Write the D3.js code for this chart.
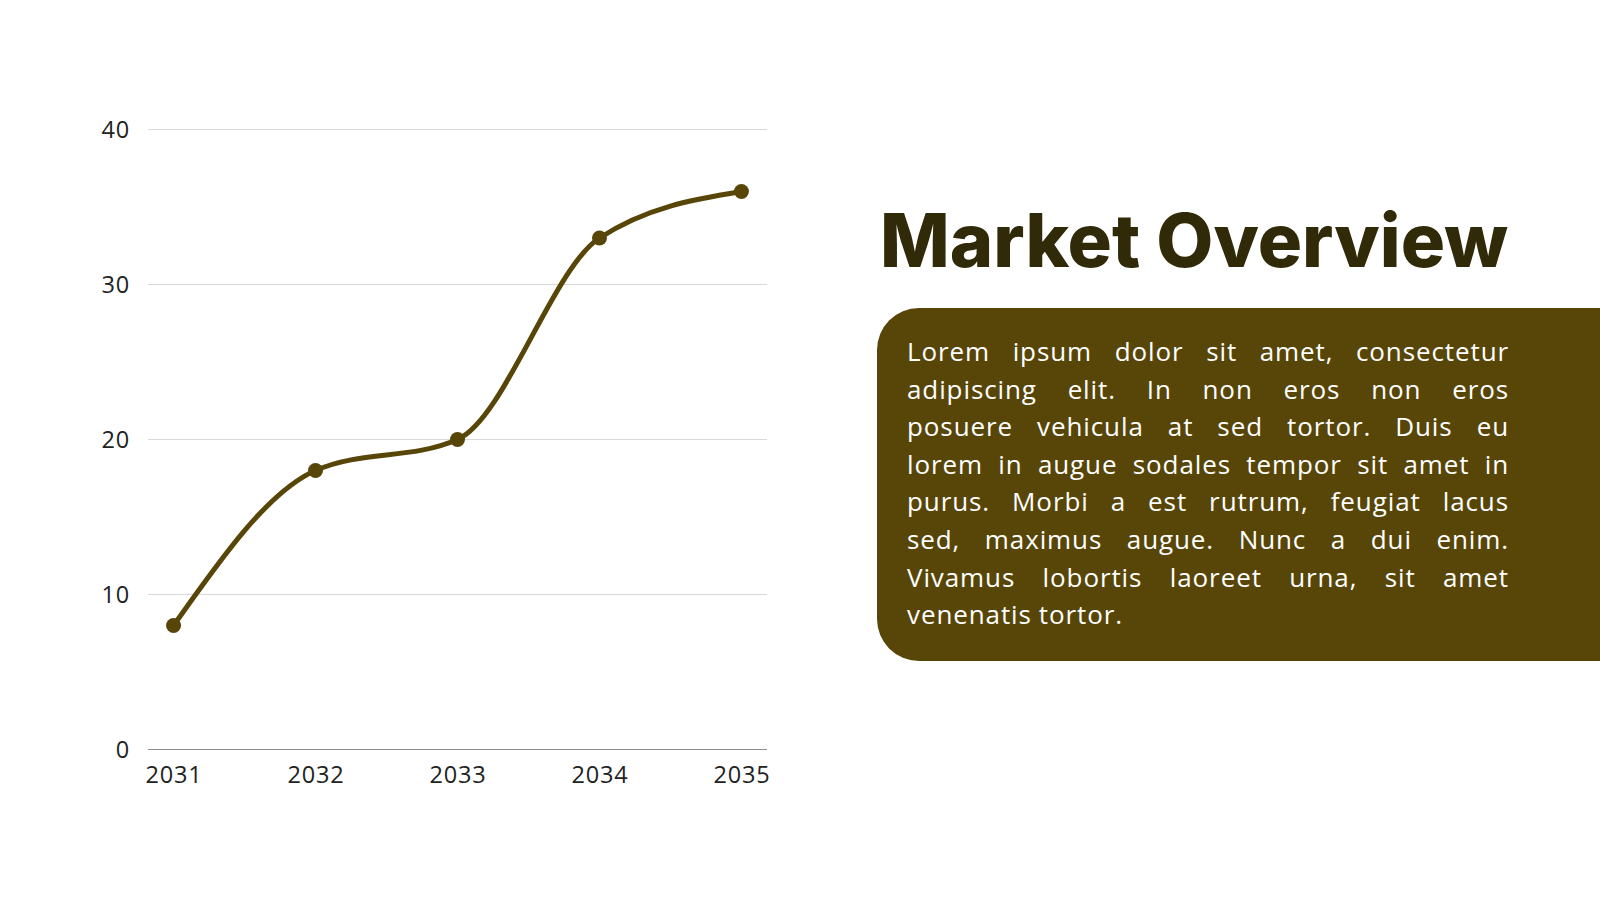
<!DOCTYPE html>
<html>
<head>
<meta charset="utf-8">
<script src="https://cdn.jsdelivr.net/npm/d3@7"></script>
<style>
  html, body { margin: 0; padding: 0; background: #ffffff; }
  svg { display: block; }
</style>
</head>
<body>
<svg id="chart"></svg>
<script>
// data
const years = ["2031", "2032", "2033", "2034", "2035"];
const values = [8, 18, 20, 33, 36];
const yTicks = [0, 10, 20, 30, 40];

const title = "Market Overview";
const bodyLines = [
  "Lorem ipsum dolor sit amet, consectetur",
  "adipiscing elit. In non eros non eros",
  "posuere vehicula at sed tortor. Duis eu",
  "lorem in augue sodales tempor sit amet in",
  "purus. Morbi a est rutrum, feugiat lacus",
  "sed, maximus augue. Nunc a dui enim.",
  "Vivamus lobortis laoreet urna, sit amet",
  "venenatis tortor."
];

// layout
const width = 1600;
const height = 900;
const plot = {left: 148, right: 767, top: 129.5, bottom: 749.5};
const lineColor = "#584609";
const font = "'Open Sans', Lato, sans-serif";

const svg = d3.select('#chart')
    .attr('width', width)
    .attr('height', height);

// scales
const x = d3.scalePoint()
    .domain(years)
    .range([plot.left, plot.right])
    .padding(0.18);

const y = d3.scaleLinear()
    .domain([0, 40])
    .range([plot.bottom, plot.top]);

// grid lines
svg.append('g')
    .selectAll('line')
    .data(yTicks.filter(d => d > 0))
    .enter()
    .append('line')
    .attr('x1', plot.left)
    .attr('x2', plot.right)
    .attr('y1', d => y(d))
    .attr('y2', d => y(d))
    .attr('stroke', '#d9d9d9')
    .attr('stroke-width', 1);

// Y axis (labels only)
const yAxis = svg.append('g')
    .attr('transform', 'translate(' + plot.left + ',0)')
    .call(d3.axisLeft(y).tickValues(yTicks).tickSize(0).tickPadding(18));
yAxis.select('.domain').remove();
yAxis.selectAll('text')
    .attr('font-family', font)
    .attr('font-size', 23.5)
    .attr('letter-spacing', 0.8)
    .attr('fill', '#222222');

// X axis
const xAxis = svg.append('g')
    .attr('transform', 'translate(0,' + plot.bottom + ')')
    .call(d3.axisBottom(x).tickSize(0).tickPadding(17));
xAxis.select('.domain')
    .attr('d', 'M' + plot.left + ',0H' + plot.right)
    .attr('stroke', '#8c8c8c')
    .attr('stroke-width', 1.2);
xAxis.selectAll('text')
    .attr('font-family', font)
    .attr('font-size', 23.5)
    .attr('letter-spacing', 0.8)
    .attr('fill', '#222222');

// line
const line = d3.line()
    .x((d, i) => x(years[i]))
    .y(d => y(d))
    .curve(d3.curveMonotoneX);

svg.append('path')
    .datum(values)
    .attr('d', line)
    .attr('fill', 'none')
    .attr('stroke', lineColor)
    .attr('stroke-width', 5)
    .attr('stroke-linecap', 'round');

svg.selectAll('circle.pt')
    .data(values)
    .enter()
    .append('circle')
    .attr('class', 'pt')
    .attr('cx', (d, i) => x(years[i]))
    .attr('cy', d => y(d))
    .attr('r', 7.5)
    .attr('fill', lineColor);

// title
svg.append('text')
    .attr('x', 880)
    .attr('y', 267)
    .attr('font-family', "Inter, 'Open Sans', sans-serif")
    .attr('font-weight', 800)
    .attr('font-size', 74)
    .attr('fill', '#302a08')
    .attr('textLength', 628)
    .attr('lengthAdjust', 'spacingAndGlyphs')
    .text(title);

// text box, rounded on the left only
const box = {x: 877, y: 308, w: 740, h: 353, r: 42};
svg.append('path')
    .attr('d', 'M' + (box.x + box.r) + ',' + box.y +
      'H' + (box.x + box.w) + 'V' + (box.y + box.h) +
      'H' + (box.x + box.r) +
      'A' + box.r + ',' + box.r + ' 0 0 1 ' + box.x + ',' + (box.y + box.h - box.r) +
      'V' + (box.y + box.r) +
      'A' + box.r + ',' + box.r + ' 0 0 1 ' + (box.x + box.r) + ',' + box.y + 'Z')
    .attr('fill', '#574608');

// justified paragraph
const textLeft = 907;
const textRight = 1509;
const lineGap = 37.6;
const firstBaseline = 361;

const para = svg.append('g')
    .attr('font-family', font)
    .attr('font-size', 26)
    .attr('letter-spacing', 0.9)
    .attr('fill', '#ffffff');

bodyLines.forEach(function(str, li) {
  const words = str.split(' ');
  const yy = firstBaseline + li * lineGap;
  const last = li === bodyLines.length - 1;
  const nodes = words.map(w => para.append('text').attr('y', yy).text(w));
  const widths = nodes.map(n => n.node().getComputedTextLength());
  const total = d3.sum(widths);
  const space = last ? 7 : (textRight - textLeft - total) / (words.length - 1);
  let cx = textLeft;
  nodes.forEach(function(n, i) {
    n.attr('x', cx);
    cx += widths[i] + space;
  });
});
</script>
</body>
</html>
